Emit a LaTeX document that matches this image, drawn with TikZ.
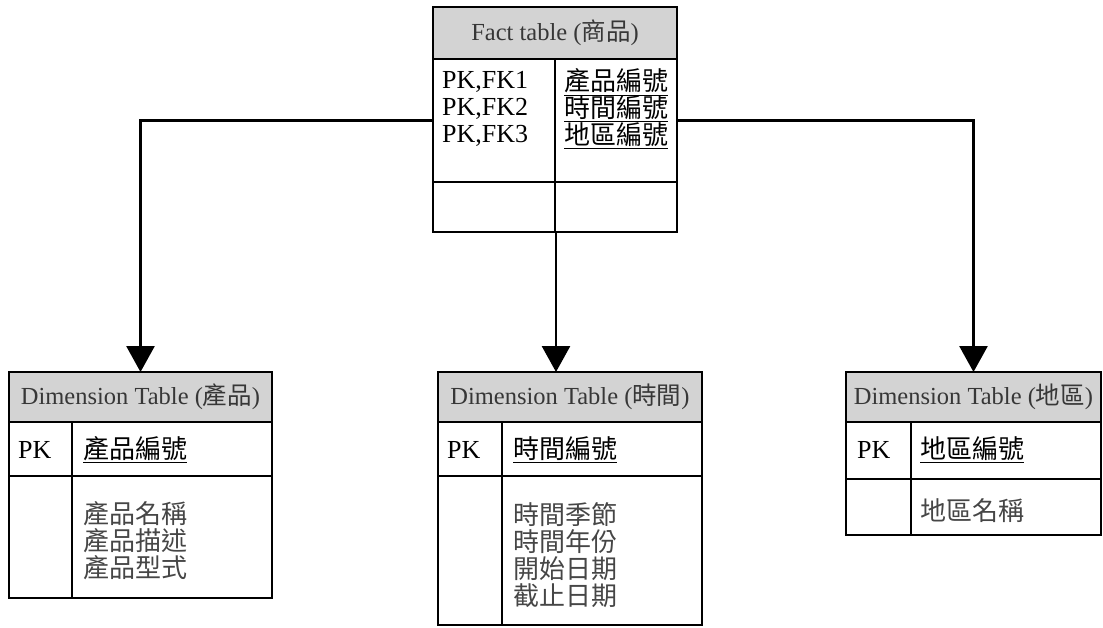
\documentclass[tikz,border=0pt]{standalone}
\usepackage{fontspec}
\setmainfont{Liberation Serif}
\newfontfamily\cjk{Noto Sans CJK TC}
\usetikzlibrary{arrows.meta}
\definecolor{hdrfill}{RGB}{211,211,211}
\definecolor{hdrtext}{RGB}{55,55,55}
\definecolor{attrtext}{RGB}{70,70,70}
\tikzset{
  cell/.style={draw=black, line width=1.6pt, inner sep=0pt, outer sep=0pt, anchor=north west},
  hdr/.style={cell, fill=hdrfill, text=hdrtext, font=\fontsize{24.5}{27}\selectfont},
  rule/.style={draw=black, line width=1.6pt},
  keytxt/.style={anchor=west, inner sep=0pt, align=left, font=\fontsize{26}{27}\selectfont},
  cjkkey/.style={keytxt, font=\cjk\fontsize{26}{27}\selectfont},
  attr/.style={cjkkey, text=attrtext},
  link/.style={line width=2.8pt, -{Triangle[width=28pt,length=26pt]}},
}
\begin{document}
\begin{tikzpicture}[x=1pt,y=-1pt]
\useasboundingbox (0,0) rectangle (1103,628);

% fact table
\node[hdr, minimum width=244, minimum height=52] (fh) at (433,7) {Fact table ({\cjk 商品})};
\node[cell, minimum width=244, minimum height=123] (fk) at (433,59) {};
\node[cell, minimum width=244, minimum height=50] (fa) at (433,182) {};
\draw[rule] (555,59) -- (555,232);
\coordinate (fbot) at (556,232);
\node[keytxt] (fkl) at (442,109) {PK,FK1\\PK,FK2\\PK,FK3};
\node[cjkkey] (fkr) at (564,109) {\underline{產品編號}\\\underline{時間編號}\\\underline{地區編號}};

% dimension table: products
\node[hdr, minimum width=263, minimum height=50] (d1h) at (9,372) {Dimension Table ({\cjk 產品})};
\node[cell, minimum width=263, minimum height=54] (d1k) at (9,422) {};
\node[cell, minimum width=263, minimum height=122] (d1a) at (9,476) {};
\draw[rule] (72,422) -- (72,598);
\node[keytxt] (d1pk) at (18,450) {PK};
\node[cjkkey] (d1key) at (83,450) {\underline{產品編號}};
\node[attr] (d1at) at (83,541) {產品名稱\\產品描述\\產品型式};

% dimension table: time
\node[hdr, minimum width=264, minimum height=50] (d2h) at (438,372) {Dimension Table ({\cjk 時間})};
\node[cell, minimum width=264, minimum height=54] (d2k) at (438,422) {};
\node[cell, minimum width=264, minimum height=149] (d2a) at (438,476) {};
\draw[rule] (502,422) -- (502,625);
\node[keytxt] (d2pk) at (447,450) {PK};
\node[cjkkey] (d2key) at (513,450) {\underline{時間編號}};
\node[attr] (d2at) at (513,555) {時間季節\\時間年份\\開始日期\\截止日期};

% dimension table: region
\node[hdr, minimum width=255, minimum height=50] (d3h) at (846,372) {Dimension Table ({\cjk 地區})};
\node[cell, minimum width=255, minimum height=57] (d3k) at (846,422) {};
\node[cell, minimum width=255, minimum height=56] (d3a) at (846,479) {};
\draw[rule] (911,422) -- (911,535);
\node[keytxt] (d3pk) at (857,450) {PK};
\node[cjkkey] (d3key) at (920,450) {\underline{地區編號}};
\node[attr] (d3at) at (920,511) {地區名稱};

% connectors
\draw[link] (fk.west) -| (d1h.north);
\draw[link] (fk.east) -| (d3h.north);
\draw[link] (fbot) -- (fbot |- d2h.north);
\end{tikzpicture}
\end{document}
